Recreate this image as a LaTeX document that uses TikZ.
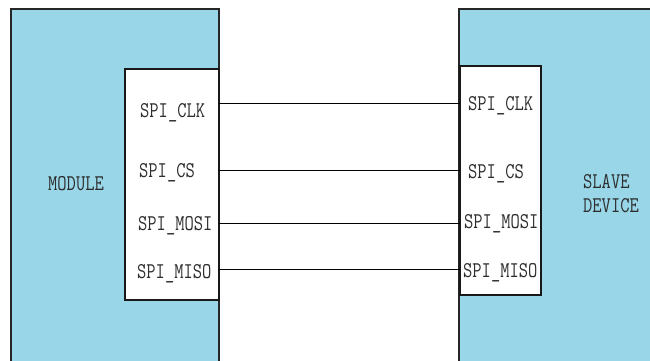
\documentclass[tikz,border=0pt]{standalone}
\usepackage{fontspec}
\definecolor{devblue}{RGB}{152,214,232}
\definecolor{txt}{RGB}{45,45,45}
\newcommand{\pintext}[1]{\scalebox{1.0}[1.25]{#1}}
\begin{document}
\begin{tikzpicture}[x=1pt,y=-1pt,
  bigbox/.style={draw=black!85,line width=1.3pt,fill=devblue},
  pinbox/.style={draw=black!90,line width=1.2pt,fill=white},
  pin/.style={font=\ttfamily\fontsize{18}{18}\selectfont,text=txt,inner sep=0pt,anchor=base west},
  wire/.style={draw=black,line width=0.9pt}]
\useasboundingbox (0,0) rectangle (650,360);
\begin{scope}
\clip (0,0) rectangle (650,360);
\path[bigbox] (11,9) rectangle (219,375);
\path[bigbox] (459,9) rectangle (665,375);
\end{scope}
\path[pinbox] (125,69) rectangle (219,300);
\path[pinbox] (460,66) rectangle (541,295);
% module labels
\node[pin] (mod) at (48,190) {\pintext{MODULE}};
\node[pin] (slave) at (583,188) {\pintext{SLAVE}};
\node[pin] (dev) at (583,212) {\pintext{DEVICE}};
% left pins
\node[pin] (lclk) at (140,117) {\pintext{SPI\_CLK}};
\node[pin] (lcs) at (139,177) {\pintext{SPI\_CS}};
\node[pin] (lmosi) at (138,230) {\pintext{SPI\_MOSI}};
\node[pin] (lmiso) at (137,278) {\pintext{SPI\_MISO}};
% right pins
\node[pin] (rclk) at (468,110) {\pintext{SPI\_CLK}};
\node[pin] (rcs) at (468,178) {\pintext{SPI\_CS}};
\node[pin] (rmosi) at (464,228) {\pintext{SPI\_MOSI}};
\node[pin] (rmiso) at (463,277) {\pintext{SPI\_MISO}};
% wire ends
\coordinate (a1) at (219,103); \coordinate (b1) at (460,103);
\coordinate (a2) at (219,170); \coordinate (b2) at (460,170);
\coordinate (a3) at (219,223); \coordinate (b3) at (460,223);
\coordinate (a4) at (219,269); \coordinate (b4) at (460,269);
\draw[wire] (a1) -- (b1);
\draw[wire] (a2) -- (b2);
\draw[wire] (a3) -- (b3);
\draw[wire] (a4) -- (b4);
\end{tikzpicture}
\end{document}
